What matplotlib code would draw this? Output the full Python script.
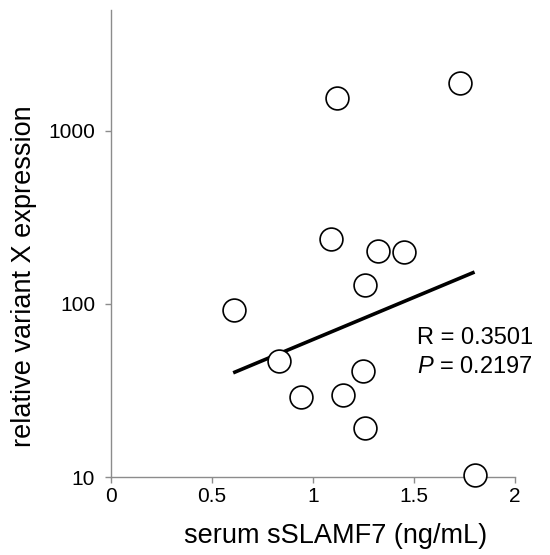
import numpy as np
import matplotlib
matplotlib.use('Agg')
import matplotlib.pyplot as plt

plt.rcParams['font.family'] = ['Liberation Sans', 'DejaVu Sans']
plt.rcParams['mathtext.fontset'] = 'custom'
plt.rcParams['mathtext.it'] = 'Liberation Sans:italic'
plt.rcParams['mathtext.rm'] = 'Liberation Sans'

# serum sSLAMF7 (ng/mL) vs relative variant X expression
sslamf7 = [1.73, 1.12, 1.09, 1.32, 1.45, 1.26, 0.61, 0.83, 1.25, 0.94, 1.15, 1.26, 1.80]
expression = [1890, 1560, 238, 203, 200, 128, 92, 47, 41, 29, 29.8, 19.2, 10.3]
x_ticks = [0, 0.5, 1, 1.5, 2]
x_tick_labels = ['0', '0.5', '1', '1.5', '2']
y_ticks = [10, 100, 1000]
y_tick_labels = ['10', '100', '1000']
r_value = '0.3501'
p_value = '0.2197'

# regression line
fit_x = [0.605, 1.80]
fit_y = [40, 153]

fig = plt.figure(figsize=(5.5, 5.55), dpi=100)
ax = fig.add_axes([0.2018, 0.1405, 0.7345, 0.8415])

ax.plot(fit_x, fit_y, color='black', lw=2.6, zorder=2, solid_capstyle='butt')
ax.scatter(sslamf7, expression, s=270, facecolors='white', edgecolors='black',
           linewidths=1.2, zorder=3, clip_on=False)

ax.set_yscale('log')
ax.set_xlim(0, 2)
ax.set_ylim(10, 5000)
ax.set_xticks(x_ticks)
ax.set_xticklabels(x_tick_labels)
ax.set_yticks(y_ticks)
ax.set_yticklabels(y_tick_labels)
ax.yaxis.set_minor_locator(matplotlib.ticker.NullLocator())

for s in ['top', 'right']:
    ax.spines[s].set_visible(False)
for s in ['left', 'bottom']:
    ax.spines[s].set_color('#8c8c8c')
    ax.spines[s].set_linewidth(1.0)
ax.tick_params(colors='#8c8c8c', labelcolor='black', labelsize=15, length=4.5, width=1.0)
ax.tick_params(axis='y', pad=7)
ax.tick_params(axis='x', pad=3)

ax.set_xlabel('serum sSLAMF7 (ng/mL)', fontsize=19.5)
ax.set_ylabel('relative variant X expression', fontsize=19.5)
ax.xaxis.set_label_coords(0.557, -0.098)
ax.yaxis.set_label_coords(-0.183, 0.43)

ax.text(1.515, 63.6, 'R = ' + r_value, fontsize=17, ha='left', va='center')
ax.text(1.515, 43.2, '$\\it{P}$ = ' + p_value, fontsize=17, ha='left', va='center')

fig.savefig('out.png', dpi=100)
